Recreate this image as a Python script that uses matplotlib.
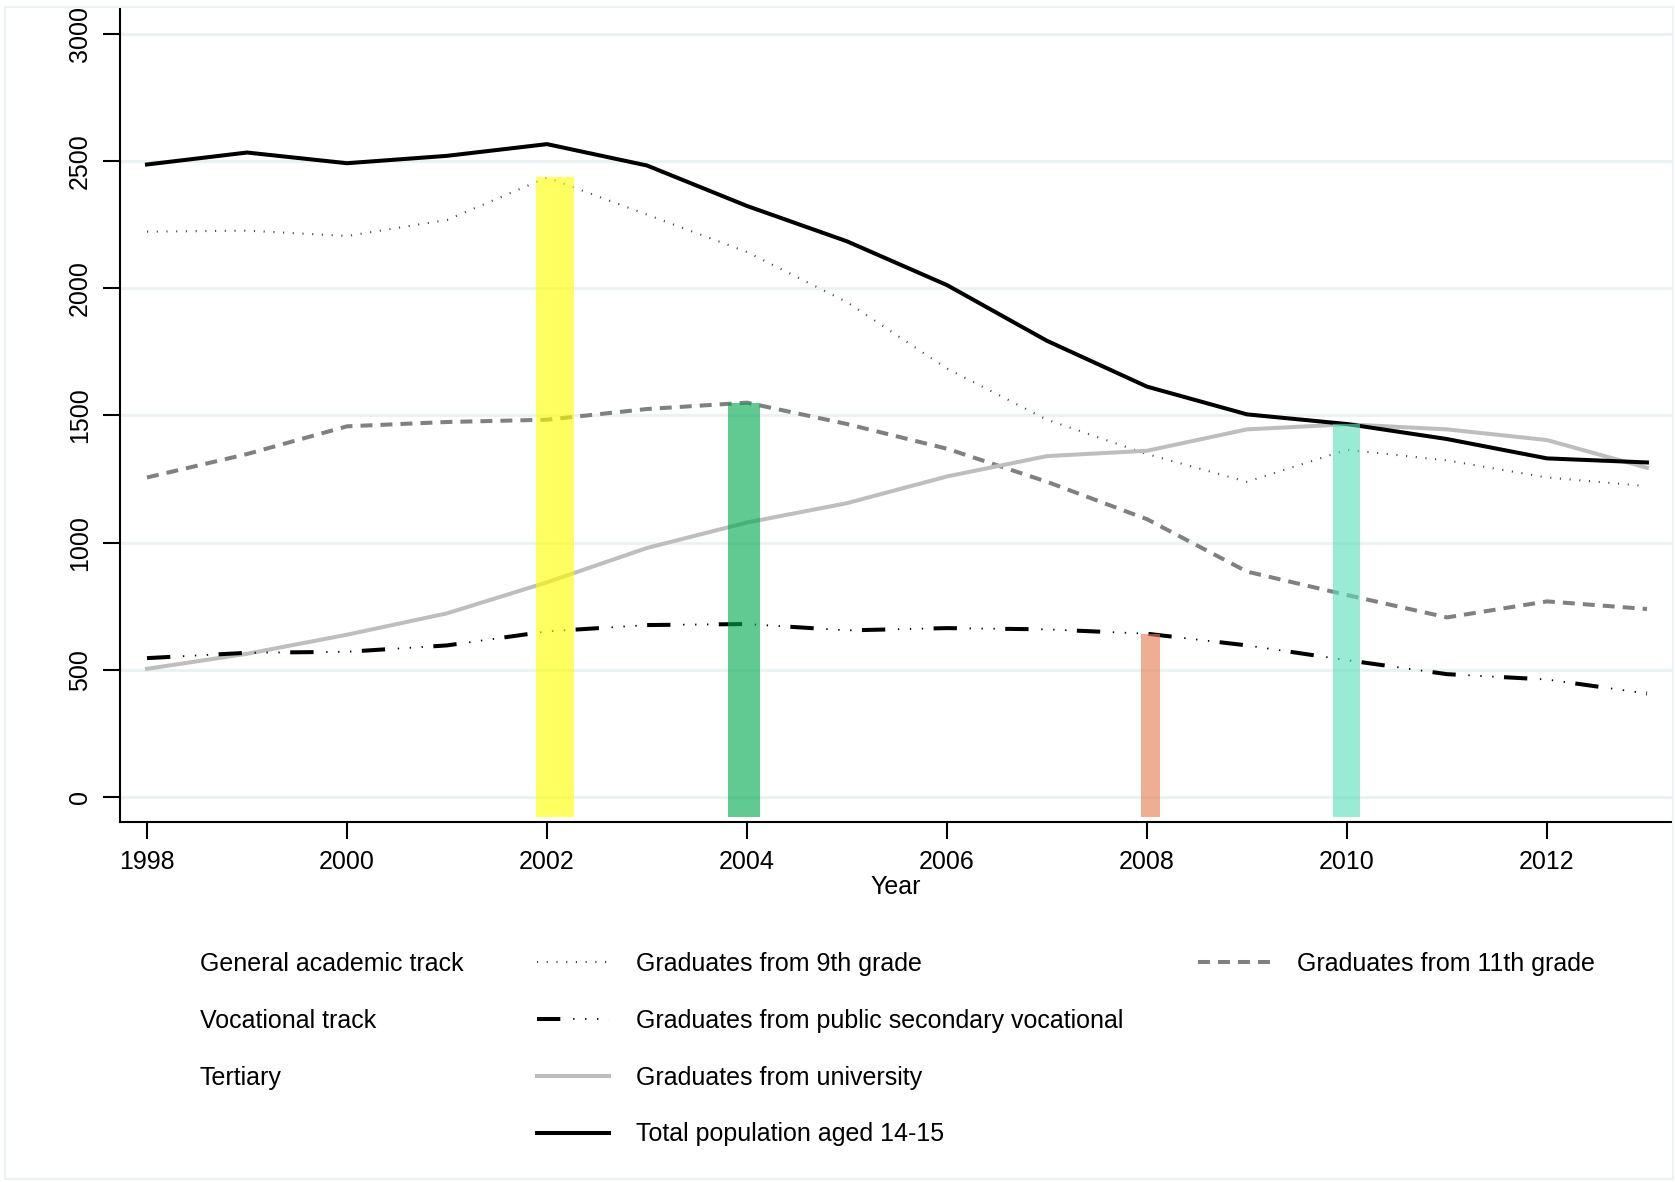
import matplotlib.pyplot as plt
from matplotlib.lines import Line2D
from matplotlib.patches import Rectangle

plt.rcParams['font.family'] = ['Liberation Sans', 'DejaVu Sans']
plt.rcParams['lines.scale_dashes'] = False

years = list(range(1998, 2014))

total_pop = [2486, 2533, 2491, 2520, 2566, 2482, 2323, 2184, 2012, 1793,
             1613, 1504, 1466, 1407, 1331, 1315]
grade9 = [2222, 2226, 2205, 2268, 2435, 2289, 2142, 1945, 1684, 1483,
          1348, 1239, 1365, 1323, 1256, 1222]
grade11 = [1256, 1348, 1457, 1474, 1483, 1525, 1550, 1466, 1369, 1239,
           1092, 886, 794, 706, 769, 739]
university = [504, 563, 638, 722, 844, 979, 1079, 1155, 1260, 1340,
              1361, 1445, 1465, 1445, 1403, 1294]
vocational = [546, 567, 571, 596, 651, 676, 680, 655, 664, 659,
              642, 596, 538, 483, 462, 407]

# highlighted years and the series each bar is taken from
hl_years = [2002, 2004, 2008, 2010]
hl_series = [grade9, grade11, vocational, university]
hl_colors = ['#ffff00', '#00aa4d', '#e67b50', '#5ddfb9']
hl_shift = [0.08, -0.03, 0.035, 0.0]
hl_width = [0.38, 0.32, 0.19, 0.27]
bar_base = -80

FS = 18
dot_style = (0, (0.8, 6.2))
dash_style = (0, (8.6, 5.8))

fig = plt.figure(figsize=(16.75, 11.82), dpi=100)
ax = fig.add_axes([120 / 1675, 1 - 822 / 1182, (1672 - 120) / 1675, (822 - 8) / 1182])

# faint outline around the whole graph region
fig.patches.append(Rectangle((5 / 1675, 3 / 1182), 1668 / 1675, 1172 / 1182,
                             transform=fig.transFigure, fill=False,
                             edgecolor='#eaf2f3', linewidth=1.5))

for v in range(0, 3001, 500):
    ax.axhline(v, color='#eaf2f3', lw=2.2, zorder=0)

ax.plot(years, grade9, color='#444444', lw=1.5, linestyle=dot_style, zorder=2)
ax.plot(years, grade11, color='#808080', lw=2.9, linestyle=dash_style, zorder=2)
ax.plot(years, university, color='#bebebe', lw=2.9, zorder=2)
# vocational: long thick dash followed by three small dots
ax.plot(years, vocational, color='black', lw=2.9, linestyle=(0, (16.8, 34.8)),
        solid_capstyle='butt', zorder=2)
ax.plot(years, vocational, color='black', lw=1.3,
        linestyle=(25.7, (1, 7.6, 1, 7.6, 1, 33.4)), zorder=2)
ax.plot(years, total_pop, color='black', lw=2.9, zorder=3)

for yr, s, c, sh, w in zip(hl_years, hl_series, hl_colors, hl_shift, hl_width):
    top = s[years.index(yr)]
    ax.bar(yr + sh, top - bar_base, bottom=bar_base, width=w, color=c,
           alpha=0.62, zorder=4, linewidth=0)

ax.set_xlim(1997.73, 2013.25)
ax.set_ylim(-98, 3101)
ax.set_xticks(range(1998, 2013, 2))
ax.set_yticks(range(0, 3001, 500))
ax.tick_params(axis='both', direction='out', length=12, width=1.5,
               labelsize=FS, color='black')
ax.tick_params(axis='x', pad=8)
ax.tick_params(axis='y', pad=8)
for lab in ax.get_yticklabels():
    lab.set_rotation(90)
    lab.set_va('center')
ax.set_xlabel('Year', fontsize=FS, labelpad=1)

for side in ['top', 'right']:
    ax.spines[side].set_visible(False)
for side in ['left', 'bottom']:
    ax.spines[side].set_linewidth(1.5)

# legend laid out in rows: group name, then its series
blank = Line2D([], [], linestyle='none')
h9 = Line2D([], [], color='#444444', lw=1.5, linestyle=dot_style)
h11 = Line2D([], [], color='#808080', lw=2.9, linestyle=dash_style)
hvoc_dash = Line2D([], [], color='black', lw=2.9, linestyle=(0, (16.8, 120)))
hvoc_dots = Line2D([], [], color='black', lw=1.3,
                   linestyle=(100.8, (1, 7.6, 1, 7.6, 1, 7.6, 1, 100)))
huni = Line2D([], [], color='#bebebe', lw=2.9)
htot = Line2D([], [], color='black', lw=2.9)

handles = [blank, blank, blank, blank,
           h9, (hvoc_dash, hvoc_dots), huni, htot,
           h11, blank, blank, blank]
labels = ['General academic track', 'Vocational track', 'Tertiary', '',
          'Graduates from 9th grade', 'Graduates from public secondary vocational',
          'Graduates from university', 'Total population aged 14-15',
          'Graduates from 11th grade', '', '', '']
fig.legend(handles, labels, ncol=3, loc='upper left',
           bbox_to_anchor=(100 / 1675, 1 - 952 / 1182),
           frameon=False, fontsize=FS, borderpad=0, borderaxespad=0,
           handlelength=2.9, handletextpad=1.08, columnspacing=2.95,
           labelspacing=1.31)

plt.savefig('out.png', dpi=100)
